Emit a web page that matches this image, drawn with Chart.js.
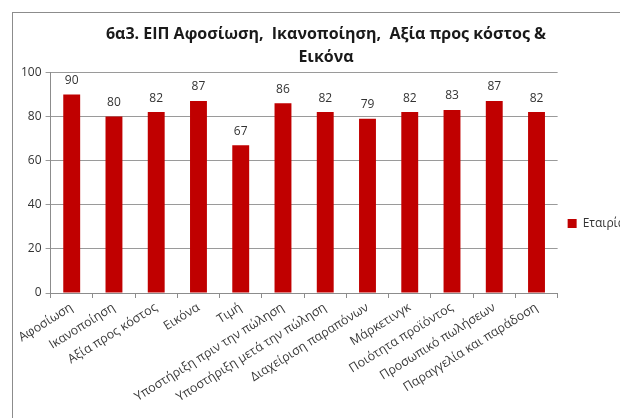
<!DOCTYPE html>
<html>
<head>
<meta charset="utf-8">
<script src="https://cdn.jsdelivr.net/npm/chart.js@4/dist/chart.umd.min.js"></script>
<style>
  html, body { margin: 0; padding: 0; background: #fff; overflow: hidden; }
  #frame {
    position: absolute; left: 12px; top: 12px;
    width: 622px; height: 420px;
    border-left: 1px solid #8c8c8c; border-top: 1px solid #8c8c8c;
  }
</style>
</head>
<body>
<div id="frame"><canvas id="chart" width="622" height="420"></canvas></div>
<script>
const categories = [
  "Αφοσίωση", "Ικανοποίηση", "Αξία προς κόστος", "Εικόνα", "Τιμή",
  "Υποστήριξη πριν την πώληση", "Υποστήριξη μετά την πώληση",
  "Διαχείριση παραπόνων", "Μάρκετινγκ", "Ποιότητα προϊόντος",
  "Προσωπικό πωλήσεων", "Παραγγελία και παράδοση"
];
const companyScores = [90, 80, 82, 87, 67, 86, 82, 79, 82, 83, 87, 82];
const seriesName = "Εταιρία";
const titleLines = ["6α3. ΕΙΠ Αφοσίωση,  Ικανοποίηση,  Αξία προς κόστος &", "Εικόνα"];

const FONT = "'Open Sans', 'Noto Sans', sans-serif";

// writes each value just above its bar
const valueLabels = {
  id: 'valueLabels',
  afterDatasetsDraw(chart) {
    const ctx = chart.ctx;
    const meta = chart.getDatasetMeta(0);
    ctx.save();
    ctx.font = "12px " + FONT;
    ctx.fillStyle = "#333";
    ctx.textAlign = "center";
    ctx.textBaseline = "bottom";
    meta.data.forEach((bar, i) => {
      ctx.fillText(chart.data.datasets[0].data[i], bar.x, bar.y - 8);
    });
    ctx.restore();
  }
};

new Chart(document.getElementById('chart'), {
  type: 'bar',
  data: {
    labels: categories,
    datasets: [{
      label: seriesName,
      data: companyScores,
      backgroundColor: '#c00000',
      categoryPercentage: 1,
      barPercentage: 0.4
    }]
  },
  options: {
    responsive: false,
    animation: false,
    layout: { padding: { top: 0, left: 4, right: 0, bottom: 0 } },
    plugins: {
      title: {
        display: true,
        text: titleLines,
        color: '#1a1a1a',
        font: { family: FONT, size: 16, weight: 'bold', lineHeight: 1.45 },
        padding: { top: 10, bottom: 3 }
      },
      legend: {
        position: 'right',
        align: 'start',
        // empty legend title used as a spacer to drop the entry to mid-height
        title: { display: true, text: '', padding: { top: 180, bottom: 0 }, font: { size: 12, lineHeight: 1.2 } },
        labels: {
          boxWidth: 9, boxHeight: 9,
          color: '#333',
          font: { family: FONT, size: 12 }
        }
      },
      tooltip: { enabled: false }
    },
    scales: {
      x: {
        // tall axis box so the long rotated labels are not clipped
        afterFit(scale) { scale.height = 140; },
        grid: { display: true, drawOnChartArea: false, offset: true, color: '#8c8c8c', tickLength: 5 },
        border: { color: '#8c8c8c' },
        ticks: {
          color: '#3a3a3a',
          font: { family: FONT, size: 12.5 },
          minRotation: 32, maxRotation: 32, autoSkip: false, padding: 2
        }
      },
      y: {
        min: 0, max: 100,
        grid: { color: '#9a9a9a', tickLength: 5 },
        border: { color: '#8c8c8c' },
        ticks: {
          stepSize: 20,
          color: '#333',
          font: { family: FONT, size: 12 },
          padding: 4
        }
      }
    }
  },
  plugins: [valueLabels]
});
</script>
</body>
</html>
